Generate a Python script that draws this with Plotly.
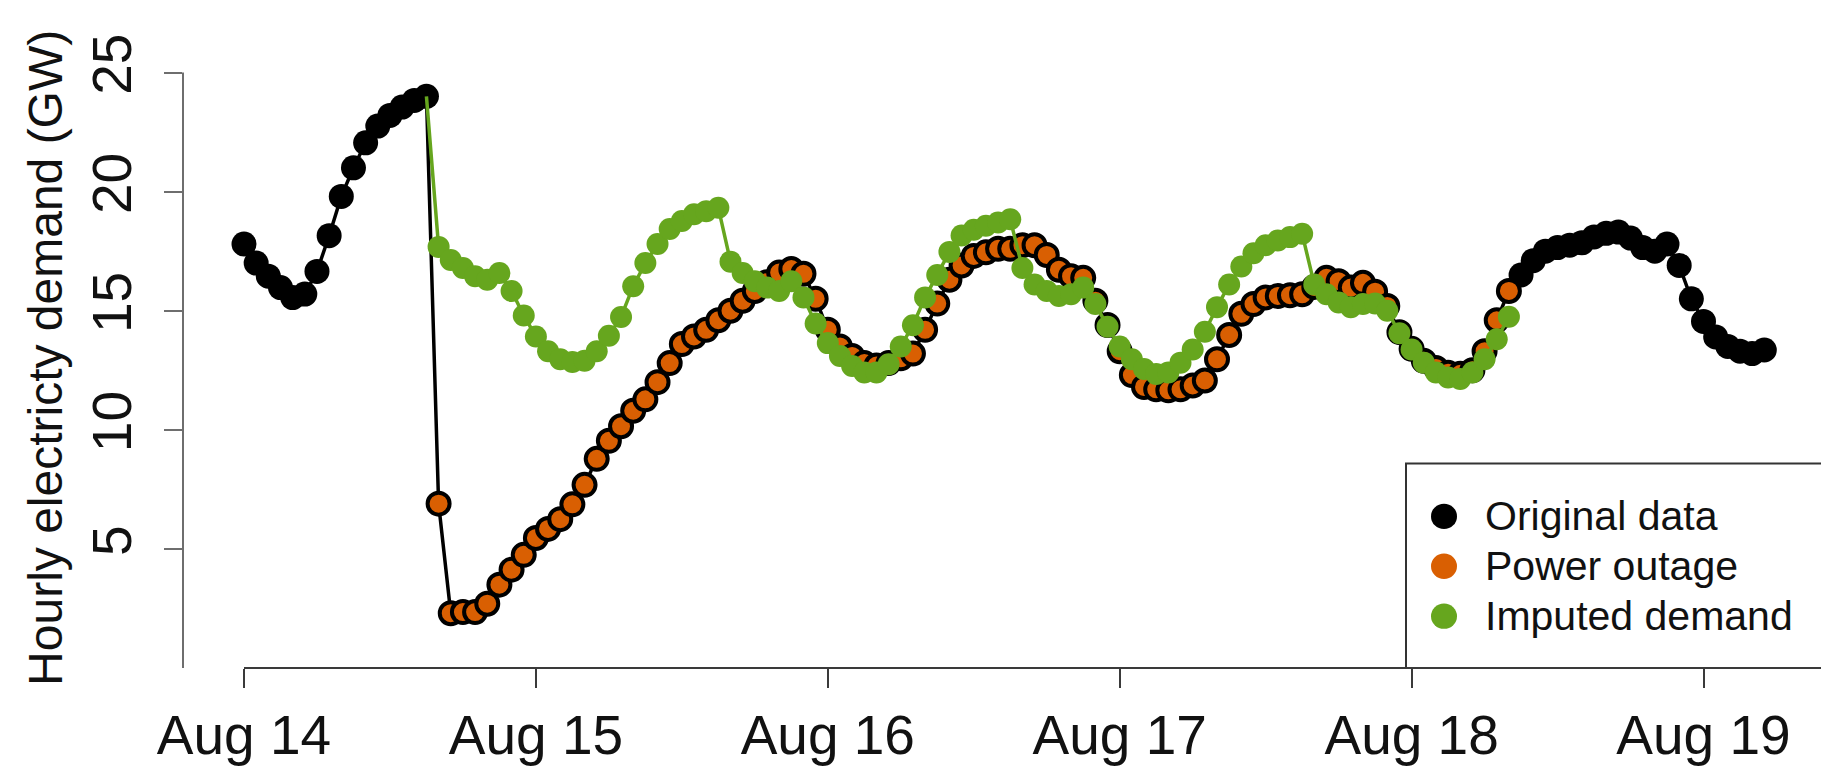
import pandas as pd
import plotly.graph_objects as go

# ---------------- data (GW, hourly, starting 2003-08-14 00:00) ----------------
start_time = "2003-08-14 00:00"

# original data before the outage (Aug 14 00:00 - 15:00)
pre_outage = [17.8, 17.0, 16.45, 15.97, 15.55, 15.7, 16.65, 18.15, 19.8, 21.0,
              22.05, 22.75, 23.2, 23.55, 23.83, 24.0]

# observed demand during the power outage (Aug 14 16:00 - Aug 18 08:00)
outage = [6.9, 2.3, 2.35, 2.35, 2.7, 3.5, 4.13, 4.75, 5.46, 5.84,
          6.25, 6.87, 7.69, 8.78, 9.54, 10.15, 10.8, 11.28, 12.0, 12.8,
          13.6, 13.92, 14.2, 14.6, 15.0, 15.42, 15.83, 16.2, 16.6, 16.75,
          16.55, 15.5, 14.2, 13.5, 13.1, 12.8, 12.7, 12.8, 13.0, 13.2,
          14.2, 15.3, 16.3, 16.9, 17.3, 17.45, 17.6, 17.6, 17.75, 17.75,
          17.34, 16.72, 16.45, 16.38, 15.42, 14.4, 13.3, 12.3, 11.8, 11.7,
          11.66, 11.7, 11.86, 12.07, 12.96, 13.98, 14.87, 15.28, 15.56, 15.62,
          15.65, 15.69, 16.0, 16.38, 16.24, 15.97, 16.17, 15.8, 15.2, 14.1,
          13.4, 12.9, 12.6, 12.4, 12.35, 12.5, 13.3, 14.6, 15.83]

# imputed demand for the outage hours
imputed = [17.68, 17.13, 16.79, 16.45, 16.3, 16.58, 15.83, 14.8, 13.92, 13.3,
           12.96, 12.85, 12.9, 13.3, 13.95, 14.74, 16.03, 17.0, 17.8, 18.43,
           18.77, 19.05, 19.18, 19.32, 17.06, 16.58, 16.24, 15.97, 15.83, 16.24,
           15.56, 14.46, 13.64, 13.1, 12.68, 12.41, 12.41, 12.75, 13.5, 14.39,
           15.56, 16.5, 17.47, 18.16, 18.4, 18.57, 18.7, 18.84, 16.79, 16.1,
           15.83, 15.62, 15.69, 15.97, 15.28, 14.33, 13.5, 12.96, 12.55, 12.34,
           12.41, 12.82, 13.37, 14.12, 15.15, 16.1, 16.86, 17.41, 17.75, 17.95,
           18.09, 18.23, 16.1, 15.69, 15.35, 15.15, 15.28, 15.3, 15.0, 14.05,
           13.37, 12.82, 12.41, 12.2, 12.13, 12.41, 12.96, 13.8, 14.75]

# original data after the outage (Aug 18 09:00 - Aug 19 05:00)
post_outage = [16.5, 17.1, 17.5, 17.65, 17.75, 17.85, 18.1, 18.25, 18.3, 18.05,
               17.65, 17.5, 17.8, 16.9, 15.5, 14.55, 13.9, 13.5, 13.3, 13.2,
               13.35]

tick_dates = ["2003-08-14", "2003-08-15", "2003-08-16", "2003-08-17",
              "2003-08-18", "2003-08-19"]
tick_labels = ["Aug 14", "Aug 15", "Aug 16", "Aug 17", "Aug 18", "Aug 19"]
y_ticks = [5, 10, 15, 20, 25]

series_names = ["Original data", "Power outage", "Imputed demand"]

# ---------------- styling ----------------
BLACK = "#000000"
ORANGE = "#D95F02"
GREEN = "#66A61E"
XAXIS_COL = "#3a3a3a"
YAXIS_COL = "#6e6e6e"
FONT = "Liberation Sans, Arial, Helvetica, sans-serif"

W, H = 1821, 766
L, R, T, B = 183, 0, 40, 84
PW, PH = W - L - R, H - T - B
DAY_PX = 291.9
X0_PX = 244  # pixel of the first tick inside the figure

n_pre, n_out, n_post = len(pre_outage), len(outage), len(post_outage)
times = pd.date_range(start_time, periods=n_pre + n_out + n_post, freq="h")
t_pre = times[:n_pre]
t_out = times[n_pre:n_pre + n_out]
t_post = times[n_pre + n_out:]

all_values = pre_outage + outage + post_outage

t_start = pd.Timestamp(tick_dates[0])
x_left = t_start + pd.Timedelta(days=(L - X0_PX) / DAY_PX)
x_right = t_start + pd.Timedelta(days=(W - R - X0_PX) / DAY_PX)
y_top = PH / 24.35

fig = go.Figure()

# black line through the original series
fig.add_trace(go.Scatter(x=times, y=all_values, mode="lines",
                         line=dict(color=BLACK, width=3.5),
                         showlegend=False, hoverinfo="skip"))
# black points (not during outage)
fig.add_trace(go.Scatter(x=list(t_pre) + list(t_post),
                         y=pre_outage + post_outage, mode="markers",
                         marker=dict(color=BLACK, size=25, line=dict(width=0)),
                         name=series_names[0], showlegend=False))
# orange outage points with black outline
fig.add_trace(go.Scatter(x=t_out, y=outage, mode="markers",
                         marker=dict(color=ORANGE, size=22,
                                     line=dict(color=BLACK, width=4)),
                         name=series_names[1], showlegend=False))
# green imputed line (starts from last original value)
fig.add_trace(go.Scatter(x=times[n_pre - 1:n_pre + n_out],
                         y=[pre_outage[-1]] + imputed, mode="lines",
                         line=dict(color=GREEN, width=3.5),
                         showlegend=False, hoverinfo="skip"))
fig.add_trace(go.Scatter(x=t_out, y=imputed, mode="markers",
                         marker=dict(color=GREEN, size=22, line=dict(width=0)),
                         name=series_names[2], showlegend=False))

shapes = []
# x axis line from first tick to the right edge
shapes.append(dict(type="line", xref="x", yref="paper",
                   x0=tick_dates[0], x1="2003-08-21", y0=0, y1=0,
                   line=dict(color=XAXIS_COL, width=2)))
# y axis line from 0 to 25
shapes.append(dict(type="line", xref="paper", yref="y",
                   x0=0, x1=0, y0=0, y1=y_ticks[-1],
                   line=dict(color=YAXIS_COL, width=2)))


def px_x(px):
    return (px - L) / PW


def px_y(py):
    return (H - B - py) / PH


# legend box
shapes.append(dict(type="rect", xref="paper", yref="paper",
                   x0=px_x(1406), x1=px_x(1840), y0=px_y(682), y1=px_y(473),
                   line=dict(color="#333333", width=2), fillcolor="white",
                   layer="below"))
annotations = []
leg_rows = [527, 578, 629]
leg_colors = [BLACK, ORANGE, GREEN]
for name, col, ry in zip(series_names, leg_colors, leg_rows):
    r = 13
    shapes.append(dict(type="circle", xref="paper", yref="paper",
                       x0=px_x(1444 - r), x1=px_x(1444 + r),
                       y0=px_y(ry + r), y1=px_y(ry - r),
                       fillcolor=col, line=dict(width=0)))
    annotations.append(dict(text=name, xref="paper", yref="paper",
                            x=px_x(1483), y=px_y(ry), xanchor="left",
                            yanchor="middle", showarrow=False,
                            font=dict(family=FONT, size=41, color="#111111")))

# y axis title
annotations.append(dict(text="Hourly electricty demand (GW)", xref="paper",
                        yref="paper", x=px_x(46), y=px_y(365), textangle=-90,
                        xanchor="center", yanchor="middle", showarrow=False,
                        font=dict(family=FONT, size=48, color="#111111")))

fig.update_layout(
    width=W, height=H,
    margin=dict(l=L, r=R, t=T, b=B, pad=0),
    paper_bgcolor="white", plot_bgcolor="white",
    showlegend=False,
    shapes=shapes, annotations=annotations,
    xaxis=dict(type="date", range=[x_left, x_right],
               tickvals=tick_dates, ticktext=tick_labels,
               ticks="outside", ticklen=19, tickwidth=2, tickcolor=XAXIS_COL,
               showgrid=False, zeroline=False, showline=False,
               tickfont=dict(family=FONT, size=55, color="#111111")),
    yaxis=dict(range=[0, y_top], tickvals=y_ticks,
               ticktext=[str(v) for v in y_ticks],
               ticks="outside", ticklen=18, tickwidth=2, tickcolor=YAXIS_COL,
               tickangle=-90, ticklabelstandoff=11,
               showgrid=False, zeroline=False, showline=False,
               tickfont=dict(family=FONT, size=55, color="#111111")),
)

fig.write_html("out.html")
